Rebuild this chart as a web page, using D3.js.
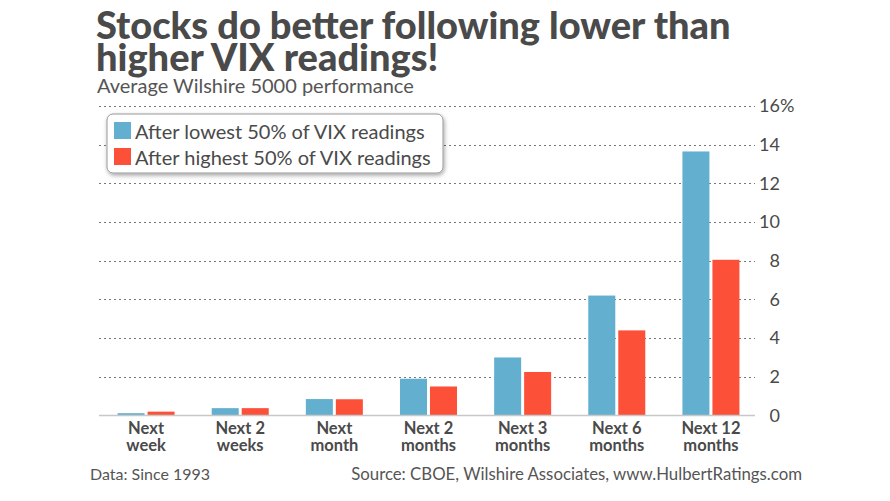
<!DOCTYPE html>
<html>
<head>
<meta charset="utf-8">
<script src="https://cdn.jsdelivr.net/npm/d3@7"></script>
<style>
  body { margin: 0; background: #fff; }
  svg { font-family: Lato, "Open Sans", sans-serif; }
  .grid line { stroke: #777; stroke-dasharray: 2,3; }
</style>
</head>
<body>
<svg id="chart" width="890" height="501"></svg>
<script>
// data
var categories = [["Next", "week"], ["Next 2", "weeks"], ["Next", "month"], ["Next 2", "months"],
                  ["Next 3", "months"], ["Next 6", "months"], ["Next 12", "months"]];
var lowVix = [0.12, 0.38, 0.85, 1.9, 3.0, 6.2, 13.65];
var highVix = [0.2, 0.38, 0.84, 1.5, 2.25, 4.4, 8.05];
var seriesNames = ["After lowest 50% of VIX readings", "After highest 50% of VIX readings"];
var yTicks = [0, 2, 4, 6, 8, 10, 12, 14, 16];

var colors = ["#63afcf", "#fd5039"];
var textColor = "#4a4a4a";

var svg = d3.select("#chart");
var plotLeft = 99, plotRight = 758, plotTop = 106, plotBottom = 415.5;

var x = d3.scaleBand().domain(d3.range(categories.length)).range([plotLeft, plotRight]);
var y = d3.scaleLinear().domain([0, 16]).range([plotBottom, plotTop]);

// grid lines
var grid = svg.append("g").attr("class", "grid");
grid.selectAll("line").data(yTicks.slice(1)).enter()
  .append("line")
  .attr("x1", plotLeft).attr("x2", 755)
  .attr("y1", function(d){ return Math.round(y(d)) + 0.5; })
  .attr("y2", function(d){ return Math.round(y(d)) + 0.5; });

// y axis on the right
var yAxis = d3.axisRight(y).tickValues(yTicks).tickSize(0).tickPadding(0)
  .tickFormat(function(d){ return d; });
var ya = svg.append("g").attr("transform", "translate(780,0)").call(yAxis);
ya.select(".domain").remove();
ya.selectAll("text").attr("text-anchor", "end").attr("x", 0)
  .attr("fill", textColor).style("font-size", "18px")
  .style("font-family", "Lato, sans-serif");
svg.append("text").attr("x", 780).attr("y", y(16)).attr("dy", "0.32em")
  .attr("fill", textColor).style("font-size", "18px").text("%");

// bars
var bw = 27, gap = 3;
var groups = svg.append("g").selectAll("g").data(categories).enter().append("g")
  .attr("transform", function(d, i){ return "translate(" + (x(i) + x.bandwidth() / 2) + ",0)"; });
groups.append("rect")
  .attr("x", -bw - gap / 2).attr("width", bw)
  .attr("y", function(d, i){ return y(lowVix[i]); })
  .attr("height", function(d, i){ return y(0) - y(lowVix[i]); })
  .attr("fill", colors[0]);
groups.append("rect")
  .attr("x", gap / 2).attr("width", bw)
  .attr("y", function(d, i){ return y(highVix[i]); })
  .attr("height", function(d, i){ return y(0) - y(highVix[i]); })
  .attr("fill", colors[1]);

// baseline
svg.append("line").attr("x1", plotLeft).attr("x2", 755)
  .attr("y1", plotBottom).attr("y2", plotBottom)
  .attr("stroke", "#c8c8c8").attr("stroke-width", 1.5);

// category labels
var labels = groups.append("text").attr("text-anchor", "middle")
  .attr("fill", textColor).style("font-size", "16.5px").style("font-weight", 700);
labels.append("tspan").attr("x", 0).attr("y", 434).text(function(d){ return d[0]; });
labels.append("tspan").attr("x", 0).attr("y", 451).text(function(d){ return d[1]; });

// legend
var defs = svg.append("defs");
var f = defs.append("filter").attr("id", "shadow").attr("x", "-10%").attr("y", "-20%")
  .attr("width", "120%").attr("height", "150%");
f.append("feDropShadow").attr("dx", 1).attr("dy", 2).attr("stdDeviation", 2)
  .attr("flood-color", "#000").attr("flood-opacity", 0.35);
var legend = svg.append("g");
legend.append("rect").attr("x", 107).attr("y", 114).attr("width", 336).attr("height", 59)
  .attr("rx", 6).attr("fill", "#fff").attr("stroke", "#999").attr("filter", "url(#shadow)");
seriesNames.forEach(function(name, i){
  legend.append("rect").attr("x", 114).attr("y", 122 + i * 26).attr("width", 17).attr("height", 17)
    .attr("fill", colors[i]);
  legend.append("text").attr("x", 135).attr("y", 139 + i * 26)
    .attr("fill", textColor).style("font-size", "20px").text(name);
});

// titles
var title = svg.append("text").attr("fill", textColor)
  .style("font-size", "38px").style("font-weight", 900);
title.append("tspan").attr("x", 96).attr("y", 39).text("Stocks do better following lower than");
title.append("tspan").attr("x", 96).attr("y", 71).text("higher VIX readings!");
svg.append("text").attr("x", 97).attr("y", 93).attr("fill", "#555")
  .style("font-size", "20px").text("Average Wilshire 5000 performance");

// footer
svg.append("text").attr("x", 90).attr("y", 480).attr("fill", "#555")
  .style("font-size", "16px").text("Data: Since 1993");
svg.append("text").attr("x", 802).attr("y", 480).attr("text-anchor", "end").attr("fill", "#555")
  .style("font-size", "16.8px").text("Source: CBOE, Wilshire Associates, www.HulbertRatings.com");
</script>
</body>
</html>
